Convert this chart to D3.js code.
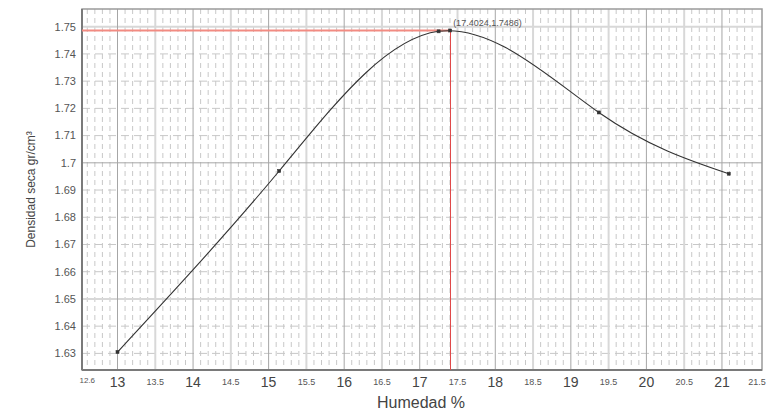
<!DOCTYPE html>
<html>
<head>
<meta charset="utf-8">
<script src="https://cdn.jsdelivr.net/npm/d3@7/dist/d3.min.js"></script>
<style>
  html, body { margin: 0; padding: 0; background: #fff; }
  svg { display: block; font-family: Arial, "Liberation Sans", sans-serif; }
</style>
</head>
<body>
<div id="chart"></div>
<script>
// measured points (humedad %, densidad seca)
const humedad = [13.0, 15.14, 17.25, 19.37, 21.09];
const densidad = [1.6305, 1.697, 1.7483, 1.7185, 1.696];
const peak = { x: 17.4024, y: 1.7486 };
const peakLabel = '(17.4024,1.7486)';

const xMajorTicks = [13, 14, 15, 16, 17, 18, 19, 20, 21];
const xMinorTicks = [12.6, 13.5, 14.5, 15.5, 16.5, 17.5, 18.5, 19.5, 20.5, 21.5];
const yTicks = [1.63, 1.64, 1.65, 1.66, 1.67, 1.68, 1.69, 1.7, 1.71, 1.72, 1.73, 1.74, 1.75];

const W = 767, H = 412;
const margin = { top: 9, right: 5, bottom: 42, left: 82 };
const innerW = W - margin.left - margin.right;
const innerH = H - margin.top - margin.bottom;

const svg = d3.select('#chart').append('svg').attr('width', W).attr('height', H);
const g = svg.append('g').attr('transform', `translate(${margin.left},${margin.top})`);

const x = d3.scaleLinear().domain([12.53, 21.53]).range([0, innerW]);
const y = d3.scaleLinear().domain([1.6239, 1.7565]).range([innerH, 0]);

// dashed fine grid
const fineX = d3.range(126, 216).map((d) => d / 10).filter((d) => Math.round(d * 10) % 5 !== 0);
g.append('g').selectAll('line').data(fineX).join('line')
  .attr('x1', (d) => x(d)).attr('x2', (d) => x(d))
  .attr('y1', 0).attr('y2', innerH)
  .attr('stroke', '#c8c8c8').attr('stroke-width', 1).attr('stroke-dasharray', '5,4');

const fineY = yTicks.filter((d) => Math.round(d * 100) % 5 !== 0);
g.append('g').selectAll('line').data(fineY).join('line')
  .attr('x1', 0).attr('x2', innerW)
  .attr('y1', (d) => y(d)).attr('y2', (d) => y(d))
  .attr('stroke', '#c8c8c8').attr('stroke-width', 1).attr('stroke-dasharray', '8,5');

// half-step grid
const halfX = xMinorTicks.filter((d) => d !== 12.6 && d < 21.5);
g.append('g').selectAll('line').data(halfX).join('line')
  .attr('x1', (d) => x(d)).attr('x2', (d) => x(d))
  .attr('y1', 0).attr('y2', innerH)
  .attr('stroke', '#d8d8d8').attr('stroke-width', 2);
g.append('g').selectAll('line').data([1.65, 1.75]).join('line')
  .attr('x1', 0).attr('x2', innerW)
  .attr('y1', (d) => y(d)).attr('y2', (d) => y(d))
  .attr('stroke', '#d8d8d8').attr('stroke-width', 2);

// major grid
g.append('g').selectAll('line').data(xMajorTicks).join('line')
  .attr('x1', (d) => x(d)).attr('x2', (d) => x(d))
  .attr('y1', 0).attr('y2', innerH)
  .attr('stroke', '#a6a6a6').attr('stroke-width', 1);
g.append('g').selectAll('line').data([1.7]).join('line')
  .attr('x1', 0).attr('x2', innerW)
  .attr('y1', (d) => y(d)).attr('y2', (d) => y(d))
  .attr('stroke', '#a6a6a6').attr('stroke-width', 1);

// frame
g.append('rect').attr('width', innerW).attr('height', innerH)
  .attr('fill', 'none').attr('stroke', '#9a9a9a').attr('stroke-width', 1.5);
g.append('line').attr('x1', 0).attr('x2', 0).attr('y1', 0).attr('y2', innerH)
  .attr('stroke', '#7a7a7a').attr('stroke-width', 2);
g.append('line').attr('x1', 0).attr('x2', innerW).attr('y1', innerH).attr('y2', innerH)
  .attr('stroke', '#7a7a7a').attr('stroke-width', 2);

// peak reference lines
g.append('line')
  .attr('x1', 0).attr('x2', x(peak.x))
  .attr('y1', y(peak.y)).attr('y2', y(peak.y))
  .attr('stroke', '#f28b82').attr('stroke-width', 2);
g.append('line')
  .attr('x1', Math.round(x(peak.x)) + 0.5).attr('x2', Math.round(x(peak.x)) + 0.5)
  .attr('y1', y(peak.y)).attr('y2', innerH)
  .attr('stroke', '#e04848').attr('stroke-width', 1);

// curve
const pts = humedad.map((h, i) => [h, densidad[i]]);
const line = d3.line().x((d) => x(d[0])).y((d) => y(d[1])).curve(d3.curveNatural);
g.append('path').attr('d', line(pts))
  .attr('fill', 'none').attr('stroke', '#333').attr('stroke-width', 1.1);

// markers
g.append('g').selectAll('rect').data(pts.concat([[peak.x, peak.y]])).join('rect')
  .attr('x', (d) => x(d[0]) - 1.5).attr('y', (d) => y(d[1]) - 1.5)
  .attr('width', 3).attr('height', 3)
  .attr('fill', '#333').attr('stroke', '#333').attr('stroke-width', 0.6);

g.append('text')
  .attr('x', x(peak.x) + 3).attr('y', y(peak.y) - 5)
  .attr('fill', '#555').attr('font-size', 9).text(peakLabel);

// y tick labels
g.append('g').selectAll('text').data(yTicks).join('text')
  .attr('x', -6).attr('y', (d) => y(d)).attr('dy', '0.35em')
  .attr('text-anchor', 'end').attr('fill', '#555').attr('font-size', 11)
  .text((d) => d3.format('~g')(d));

// x tick labels
g.append('g').selectAll('text').data(xMajorTicks).join('text')
  .attr('x', (d) => x(d)).attr('y', innerH + 17)
  .attr('text-anchor', 'middle').attr('fill', '#444').attr('font-size', 14)
  .text((d) => d);
g.append('g').selectAll('text').data(xMinorTicks).join('text')
  .attr('x', (d) => (d === 21.5 ? Math.min(x(d), innerW - 5) : x(d)))
  .attr('y', (d) => innerH + (d === 12.6 ? 13 : 15))
  .attr('text-anchor', 'middle').attr('fill', '#555')
  .attr('font-size', (d) => (d === 12.6 ? 8 : 9))
  .text((d) => d);

// axis titles
svg.append('text')
  .attr('x', 421).attr('y', 408)
  .attr('text-anchor', 'middle').attr('fill', '#444').attr('font-size', 16)
  .text('Humedad %');
svg.append('text')
  .attr('transform', `translate(35,${margin.top + innerH / 2}) rotate(-90)`)
  .attr('text-anchor', 'middle').attr('fill', '#444').attr('font-size', 12)
  .text('Densidad seca gr/cm³');
</script>
</body>
</html>
